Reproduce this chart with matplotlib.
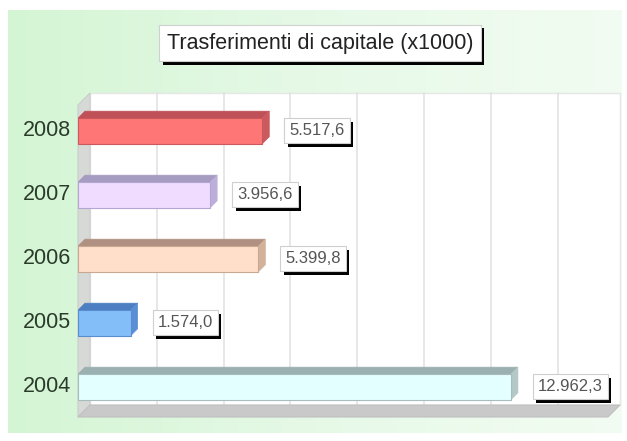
import matplotlib
matplotlib.use('Agg')
import matplotlib.pyplot as plt
import numpy as np
from matplotlib.patches import Polygon, Rectangle
from matplotlib.colors import LinearSegmentedColormap
import matplotlib.patheffects as pe

years = ['2004', '2005', '2006', '2007', '2008']
values = [12962.3, 1574.0, 5399.8, 3956.6, 5517.6]
value_labels = ['12.962,3', '1.574,0', '5.399,8', '3.956,6', '5.517,6']
grid_ticks = [2000, 4000, 6000, 8000, 10000, 12000, 14000]
title = 'Trasferimenti di capitale (x1000)'

front_colors = ['#e4ffff', '#84bef8', '#ffdfc9', '#efdcff', '#ff7676']
top_colors = ['#9bb0b0', '#4d7ec2', '#b09080', '#a69cc2', '#bf5058']
side_colors = ['#b4c8c8', '#5a8ed4', '#d2b29a', '#bcaedb', '#cb5a5e']
edge_colors = ['#a8bcbc', '#5a8cd0', '#c8a890', '#b4a6d0', '#c85a5e']

W, H = 627, 441
fig = plt.figure(figsize=(W / 100, H / 100), dpi=100)
fig.patch.set_facecolor('white')

# background panel with soft green gradient
bg = fig.add_axes([0, 0, 1, 1])
bg.set_xlim(0, W)
bg.set_ylim(H, 0)
bg.axis('off')
grad = np.linspace(0, 1, 256).reshape(1, -1)
cmap = LinearSegmentedColormap.from_list('g', ['#d4f5d4', '#e6f9e7', '#f2fcf2'])
bg.imshow(grad, extent=[8, 622, 433, 10], cmap=cmap, aspect='auto', zorder=0)

# main axes = front plane
ax_left, ax_right, ax_top, ax_bottom = 78, 608, 105, 417
ax = fig.add_axes([ax_left / W, (H - ax_bottom) / H,
                   (ax_right - ax_left) / W, (ax_bottom - ax_top) / H])
ax.axis('off')
xmax = 15870
y0, y1 = -0.469, 4.406
ax.set_xlim(0, xmax)
ax.set_ylim(y0, y1)
ppx = (ax_right - ax_left) / xmax      # px per data unit (x)
ppy = (ax_bottom - ax_top) / (y1 - y0)  # px per data unit (y)

wdx, wdy = 12 / ppx, 12 / ppy   # wall depth
bdx, bdy = 7 / ppx, 7 / ppy     # bar depth

# back wall
ax.add_patch(Rectangle((wdx, y0 + wdy), xmax, y1 - y0, facecolor='white',
                       edgecolor='#e6e6e6', lw=1, zorder=1, clip_on=False))
for g in grid_ticks:
    ax.plot([g + wdx, g + wdx], [y0 + wdy, y1 + wdy], color='#e3e3e3', lw=1.2,
            zorder=1.5, clip_on=False)
# left wall
ax.add_patch(Polygon([(0, y0), (0, y1), (wdx, y1 + wdy), (wdx, y0 + wdy)],
                     closed=True, facecolor='#d6d9d6', edgecolor='#c8ccc8', lw=0.8,
                     zorder=2, clip_on=False))
# floor
ax.add_patch(Polygon([(0, y0), (xmax, y0), (xmax + wdx, y0 + wdy), (wdx, y0 + wdy)],
                     closed=True, facecolor='#c9c9c9', edgecolor='#c0c0c0', lw=0.8,
                     zorder=2, clip_on=False))

# bars
pos = np.arange(len(years))
h = 0.4
ax.barh(pos, values, height=h, color=front_colors, edgecolor=edge_colors,
        linewidth=0.8, zorder=4)
for i, v in enumerate(values):
    top = [(0, i + h / 2), (v, i + h / 2), (v + bdx, i + h / 2 + bdy), (bdx, i + h / 2 + bdy)]
    side = [(v, i - h / 2), (v, i + h / 2), (v + bdx, i + h / 2 + bdy), (v + bdx, i - h / 2 + bdy)]
    ax.add_patch(Polygon(top, closed=True, facecolor=top_colors[i],
                         edgecolor=top_colors[i], lw=0.5, zorder=3.5))
    ax.add_patch(Polygon(side, closed=True, facecolor=side_colors[i],
                         edgecolor=side_colors[i], lw=0.5, zorder=3.5))

shadow = [pe.SimplePatchShadow(offset=(2.5, -2.5), shadow_rgbFace='black', alpha=1.0),
          pe.Normal()]

# value labels with shadow
for i, (v, lab) in enumerate(zip(values, value_labels)):
    off = (7 + 20) * 0.72
    t = ax.annotate(lab, xy=(v, i), xytext=(off, 0), textcoords='offset points',
                    ha='left', va='center', fontsize=12, color='#555555', zorder=6,
                    family='Liberation Sans',
                    bbox=dict(boxstyle='square,pad=0.3', facecolor='white',
                              edgecolor='#cfcfcf', lw=0.8),
                    annotation_clip=False)
    t.get_bbox_patch().set_path_effects(shadow)

# year labels
for i, y in enumerate(years):
    ax.annotate(y, xy=(0, i), xytext=(-5, 0), textcoords='offset points',
                ha='right', va='center', fontsize=15.5, color='#2b3b2b',
                family='Liberation Sans', annotation_clip=False)

# title box with shadow
tx, ty = 320 / W, 1 - 43 / H
tt = fig.text(tx, ty, title, ha='center', va='center', fontsize=15.5,
              family='Liberation Sans', color='#222222',
              bbox=dict(boxstyle='square,pad=0.35', facecolor='white',
                        edgecolor='#d0d0d0', lw=0.8))
tt.get_bbox_patch().set_path_effects(shadow)

fig.savefig('out.png', dpi=100)
